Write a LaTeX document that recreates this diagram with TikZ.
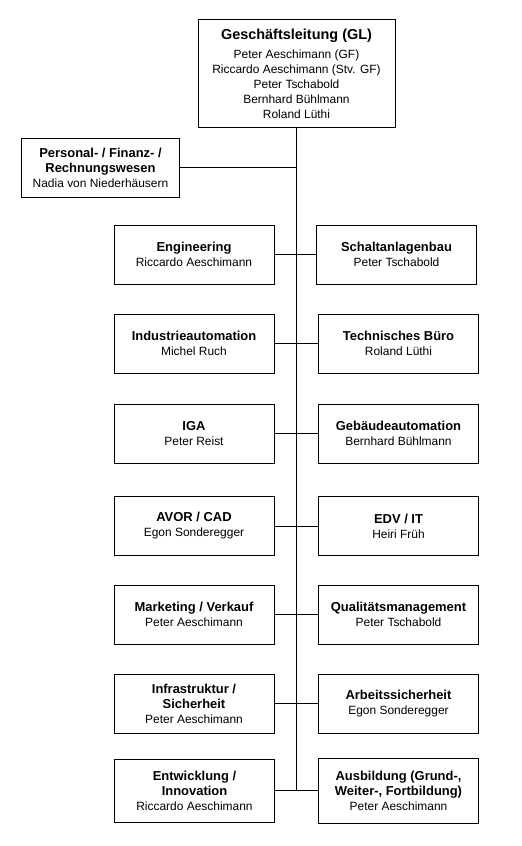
\documentclass[tikz,border=0pt]{standalone}
\usepackage{fontspec}
\setmainfont{Liberation Sans}
\newcommand{\hd}[1]{{\fontsize{13}{15.5}\selectfont\bfseries #1}}

\begin{document}
\begin{tikzpicture}[x=1bp,y=-1bp]
\tikzstyle{every node} = [draw, shape=rectangle, line width=1bp, align=center, inner sep=0pt, font=\fontsize{12}{15}\selectfont]
\tikzstyle{unit} = [minimum width=160bp, minimum height=59bp]
\useasboundingbox (0,0) rectangle (522,846);

\node [minimum width=197bp, minimum height=107bp] (gl) at (296.5, 73.5) {{\fontsize{14.5}{17}\selectfont\bfseries Geschäftsleitung (GL)}\\[4pt] Peter Aeschimann (GF)\\ Riccardo Aeschimann (Stv. GF)\\ Peter Tschabold\\ Bernhard Bühlmann\\ Roland Lüthi};
\node [minimum width=157bp, minimum height=59bp] (pf) at (100.5, 167.5) {\hd{Personal- / Finanz- /}\\ \hd{Rechnungswesen}\\ Nadia von Niederhäusern};

\node [unit] (a) at (194, 254.5) {\hd{Engineering}\\ Riccardo Aeschimann};
\node [unit] (b) at (194, 343.5) {\hd{Industrieautomation}\\ Michel Ruch};
\node [unit] (c) at (194, 433.5) {\hd{IGA}\\ Peter Reist};
\node [unit] (d) at (194, 526) {\hd{AVOR / CAD}\\ Egon Sonderegger};
\node [unit] (e) at (194, 614.5) {\hd{Marketing / Verkauf}\\ Peter Aeschimann};
\node [unit] (f) at (194, 703.5) {\hd{Infrastruktur /}\\ \hd{Sicherheit}\\ Peter Aeschimann};
\node [unit, minimum height=63bp] (g) at (194.5, 790.5) {\hd{Entwicklung /}\\ \hd{Innovation}\\ Riccardo Aeschimann};

\node [unit] (ar) at (396.5, 254.5) {\hd{Schaltanlagenbau}\\ Peter Tschabold};
\node [unit] (br) at (398.5, 343.5) {\hd{Technisches Büro}\\ Roland Lüthi};
\node [unit] (cr) at (398.5, 433.5) {\hd{Gebäudeautomation}\\ Bernhard Bühlmann};
\node [unit] (dr) at (398.5, 526) {\hd{EDV / IT}\\ Heiri Früh};
\node [unit] (er) at (398.5, 614.5) {\hd{Qualitätsmanagement}\\ Peter Tschabold};
\node [unit] (fr) at (398.5, 703.5) {\hd{Arbeitssicherheit}\\ Egon Sonderegger};
\node [unit, minimum height=65bp] (gr) at (398.5, 790.5) {\hd{Ausbildung (Grund-,}\\ \hd{Weiter-, Fortbildung)}\\ Peter Aeschimann};

\coordinate (pj) at (296.5, 167.5);
\coordinate (bot) at (296.5, 790.5);

\draw [-, line width=1bp] (gl) to (bot);
\draw [-, line width=1bp] (pf) to (pj);

\draw [-, line width=1bp] (a) to (ar);
\draw [-, line width=1bp] (b) to (br);
\draw [-, line width=1bp] (c) to (cr);
\draw [-, line width=1bp] (d) to (dr);
\draw [-, line width=1bp] (e) to (er);
\draw [-, line width=1bp] (f) to (fr);
\draw [-, line width=1bp] (g) to (gr);
\end{tikzpicture}
\end{document}
